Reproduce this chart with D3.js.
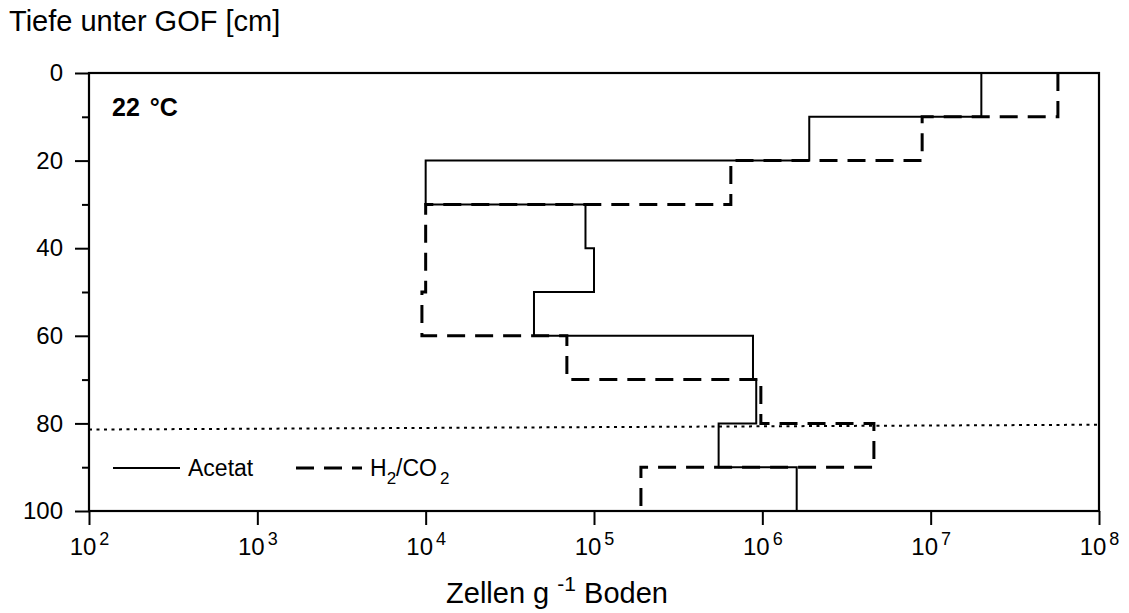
<!DOCTYPE html>
<html>
<head>
<meta charset="utf-8">
<script src="https://cdn.jsdelivr.net/npm/d3@7"></script>
<style>
  html, body { margin: 0; padding: 0; background: #fff; }
  svg { display: block; }
  text { font-family: "Liberation Sans", Arial, Helvetica, sans-serif; fill: #000; }
</style>
</head>
<body>
<svg id="chart" width="1129" height="613"></svg>
<script>
// Depth layer boundaries (cm below ground surface)
const depthEdges = [0, 10, 20, 30, 40, 50, 60, 70, 80, 90, 100];

// Cell counts per depth layer (cells per g soil)
const acetat = [2.0e7, 1.9e6, 1.0e4, 8.9e4, 1.0e5, 4.4e4, 8.8e5, 9.2e5, 5.5e5, 1.6e6];
const h2co2  = [5.7e7, 8.9e6, 6.5e5, 1.0e4, 1.0e4, 9.5e3, 6.9e4, 9.8e5, 4.6e6, 1.9e5];

// Reference line near 80 cm (start and end of the dotted line)
const refLineX = [1e2, 1e8];
const refLineDepth = [81.4, 80.3];

// Axis ticks
const xTickExponents = [2, 3, 4, 5, 6, 7, 8];
const yMajorTicks = [0, 20, 40, 60, 80, 100];
const yMinorTicks = [10, 30, 50, 70, 90];

const svg = d3.select("#chart");
const margin = { left: 89, top: 73, right: 30, bottom: 102 };
const W = 1129, H = 613;
const plotW = W - margin.left - margin.right;
const plotH = H - margin.top - margin.bottom;

const x = d3.scaleLog().domain([1e2, 1e8]).range([margin.left, margin.left + plotW]);
const y = d3.scaleLinear().domain([0, 100]).range([margin.top, margin.top + plotH]);

// Step profile: each layer is a vertical segment at its cell count
function stepPoints(values) {
  const pts = [];
  values.forEach((v, i) => {
    pts.push([v, depthEdges[i]]);
    pts.push([v, depthEdges[i + 1]]);
  });
  return pts;
}
const line = d3.line().x(d => x(d[0])).y(d => y(d[1]));

// Dotted reference line
svg.append("path")
  .attr("d", line(refLineX.map((v, i) => [v, refLineDepth[i]])))
  .attr("fill", "none").attr("stroke", "#000")
  .attr("stroke-width", 2).attr("stroke-dasharray", "3,4.5");

// Series
svg.append("path")
  .attr("d", line(stepPoints(h2co2)))
  .attr("fill", "none").attr("stroke", "#000")
  .attr("stroke-width", 3).attr("stroke-dasharray", "18,10");

svg.append("path")
  .attr("d", line(stepPoints(acetat)))
  .attr("fill", "none").attr("stroke", "#000")
  .attr("stroke-width", 2);

// Frame
svg.append("rect")
  .attr("x", margin.left).attr("y", margin.top)
  .attr("width", plotW).attr("height", plotH)
  .attr("fill", "none").attr("stroke", "#000").attr("stroke-width", 2.2);

// Y axis (left)
const yAxis = d3.axisLeft(y).tickValues(yMajorTicks).tickSize(14).tickPadding(12).tickFormat(d3.format("d"));
const gy = svg.append("g").attr("transform", `translate(${margin.left},0)`).call(yAxis);
gy.select(".domain").remove();
gy.selectAll(".tick line").attr("stroke", "#000").attr("stroke-width", 2);
gy.selectAll(".tick text").attr("font-size", 24).attr("font-family", "Liberation Sans, Arial, sans-serif");
const gyMinor = svg.append("g").attr("transform", `translate(${margin.left},0)`)
  .call(d3.axisLeft(y).tickValues(yMinorTicks).tickSize(7).tickFormat(""));
gyMinor.select(".domain").remove();
gyMinor.selectAll(".tick line").attr("stroke", "#000").attr("stroke-width", 2);

// X axis (bottom), labels as powers of ten
const gx = svg.append("g").attr("transform", `translate(0,${margin.top + plotH})`)
  .call(d3.axisBottom(x).tickValues(xTickExponents.map(e => Math.pow(10, e))).tickSize(14).tickFormat(""));
gx.select(".domain").remove();
gx.selectAll(".tick line").attr("stroke", "#000").attr("stroke-width", 2);
gx.selectAll(".tick").each(function(d) {
  const t = d3.select(this).append("text")
    .attr("y", 44).attr("text-anchor", "middle").attr("font-size", 24);
  t.append("tspan").text("10");
  t.append("tspan").attr("dx", 3).attr("dy", -10).attr("font-size", 18)
    .text(Math.round(Math.log10(d)));
});

// Axis titles
svg.append("text").attr("x", 9).attr("y", 31).attr("font-size", 29)
  .text("Tiefe unter GOF [cm]");

const xt = svg.append("text").attr("x", 557).attr("y", 603)
  .attr("text-anchor", "middle").attr("font-size", 29);
xt.append("tspan").text("Zellen g ");
xt.append("tspan").attr("dy", -12).attr("font-size", 21).text("-1");
xt.append("tspan").attr("dy", 12).text(" Boden");

// Temperature label
const tl = svg.append("text").attr("x", 112).attr("y", 116).attr("font-size", 25)
  .attr("font-weight", "bold");
tl.append("tspan").text("22");
tl.append("tspan").attr("dx", 10).text("°C");

// Legend
const legY = 468;
svg.append("line").attr("x1", 113).attr("x2", 180).attr("y1", legY).attr("y2", legY)
  .attr("stroke", "#000").attr("stroke-width", 2);
svg.append("text").attr("x", 188).attr("y", legY + 8).attr("font-size", 23).text("Acetat");
svg.append("line").attr("x1", 296).attr("x2", 362).attr("y1", legY).attr("y2", legY)
  .attr("stroke", "#000").attr("stroke-width", 3).attr("stroke-dasharray", "18,10");
const lh = svg.append("text").attr("x", 370).attr("y", legY + 8).attr("font-size", 23);
lh.append("tspan").text("H");
lh.append("tspan").attr("dy", 8).attr("font-size", 17).text("2");
lh.append("tspan").attr("dy", -8).text("/CO");
lh.append("tspan").attr("dx", 3).attr("dy", 8).attr("font-size", 17).text("2");
</script>
</body>
</html>
